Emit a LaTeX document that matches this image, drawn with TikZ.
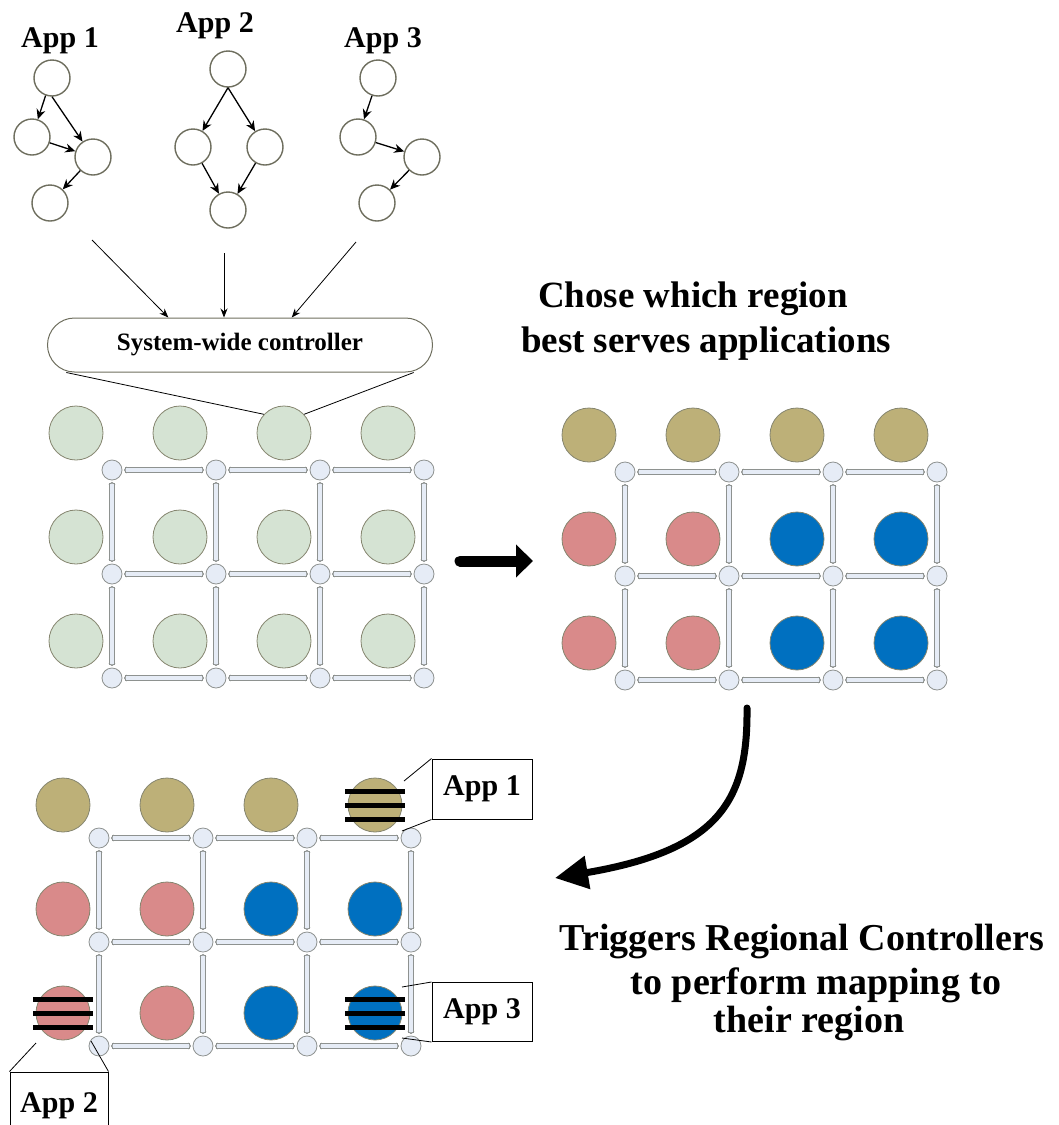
\documentclass[tikz,border=0pt]{standalone}
\usepackage{fontspec}
\setmainfont{Liberation Serif}
\usetikzlibrary{arrows.meta}

\definecolor{taskline}{HTML}{6E6E5E}
\definecolor{peline}{HTML}{85856F}
\definecolor{pegreen}{HTML}{D5E3D3}
\definecolor{pekhaki}{HTML}{BDB078}
\definecolor{pepink}{HTML}{D98A8A}
\definecolor{peblue}{HTML}{0070C0}
\definecolor{rtfill}{HTML}{E6ECF6}
\definecolor{rtline}{HTML}{8E9290}

% router mesh: name prefix, x and y of the first router
\newcommand{\mesh}[3]{%
  \foreach \i in {0,...,3}
    \foreach \j in {0,...,2}
      \node[router] (#1r\i\j) at ({#2+104*\i},{#3+104*\j}) {};
  \foreach \i/\k in {0/1,1/2,2/3}
    \foreach \j in {0,...,2}
      \draw[link] (#1r\i\j) -- (#1r\k\j);
  \foreach \i in {0,...,3}
    \foreach \j/\k in {0/1,1/2}
      \draw[link] (#1r\i\j) -- (#1r\i\k);
}

% black bars over a tile
\newcommand{\stripes}[1]{%
  \foreach \d in {-14,0,14}
    \draw[stripe] ([shift={(-30,\d)}]#1.center) -- ++(60,0);
}

\begin{document}
\begin{tikzpicture}[x=1pt,y=-1pt,
    task/.style={circle,draw=taskline,line width=1.4pt,fill=white,minimum size=36pt,inner sep=0pt},
    dep/.style={-{Stealth[length=10pt,width=9pt]},line width=1.3pt},
    feed/.style={-{Stealth[length=9pt,width=7pt]},line width=0.8pt},
    pe/.style={circle,draw=peline,line width=0.8pt,minimum size=54pt,inner sep=0pt},
    router/.style={circle,draw=rtline,line width=0.8pt,fill=rtfill,minimum size=20pt,inner sep=0pt},
    link/.style={draw=rtline,double=rtfill,double distance=3.4pt,line width=1pt,shorten <=1.5pt,shorten >=1.5pt,
                 {Stealth[length=2.5pt,width=7pt,inset=1pt]}-{Stealth[length=2.5pt,width=7pt,inset=1pt]}},
    lbl/.style={font=\fontsize{30}{36}\selectfont\bfseries,anchor=base},
    title/.style={font=\fontsize{37}{44}\selectfont\bfseries,anchor=base},
    callout/.style={draw,line width=1pt,fill=white,minimum width=100pt,minimum height=60pt,inner sep=0pt,font=\fontsize{30}{36}\selectfont\bfseries},
    stripe/.style={line width=5pt},
    bigarrow/.style={line width=11pt,line cap=round,-{Triangle[length=17pt,width=32pt]}}]

\useasboundingbox (0,0) rectangle (1059,1125);

% applications
\node[lbl] at (60,47) {App 1};
\node[lbl] at (215,32) {App 2};
\node[lbl] at (383,47) {App 3};

\node[task] (a1t) at (52,78) {};
\node[task] (a1l) at (32,137) {};
\node[task] (a1r) at (93,157) {};
\node[task] (a1b) at (50,203) {};
\draw[dep] (a1t.-110) -- (a1l);
\draw[dep] (a1t.south) -- (a1r);
\draw[dep] (a1l) -- (a1r);
\draw[dep] (a1r) -- (a1b);

\node[task] (a2t) at (228,69) {};
\node[task] (a2l) at (193,147) {};
\node[task] (a2r) at (265,147) {};
\node[task] (a2b) at (228,210) {};
\draw[dep] (a2t.south) -- (a2l);
\draw[dep] (a2t.south) -- (a2r);
\draw[dep] (a2l) -- (a2b);
\draw[dep] (a2r) -- (a2b);

\node[task] (a3t) at (378,78) {};
\node[task] (a3l) at (358,137) {};
\node[task] (a3r) at (422,157) {};
\node[task] (a3b) at (377,203) {};
\draw[dep] (a3t) -- (a3l);
\draw[dep] (a3l) -- (a3r);
\draw[dep] (a3r) -- (a3b);

% system-wide controller
\node[draw=taskline,line width=1pt,rounded corners=27pt,minimum width=385pt,minimum height=54pt,
      font=\fontsize{25}{30}\selectfont\bfseries] (ctrl) at (240,345) {System-wide controller};
\coordinate (in1) at (92,240);
\coordinate (in2) at (224,253);
\coordinate (in3) at (356,242);
\draw[feed] (in1) -- (ctrl.159);
\draw[feed] (in2) -- (in2 |- ctrl.north);
\draw[feed] (in3) -- (ctrl.28);

% mesh before mapping
\mesh{g1}{112}{470}
\foreach \i in {0,...,3}
  \foreach \j in {0,...,2}
    \node[pe,fill=pegreen] (g1p\i\j) at ({76+104*\i},{433+104*\j}) {};
\draw[line width=0.8pt] (ctrl.189) -- (g1p20.137);
\draw[line width=0.8pt] (ctrl.-9) -- (g1p20.43);

% mesh split into regions
\mesh{g2}{625}{472}
\foreach \i/\c in {0/pepink,1/pepink,2/peblue,3/peblue} {
  \node[pe,fill=pekhaki] (g2p\i0) at ({589+104*\i},435) {};
  \node[pe,fill=\c] (g2p\i1) at ({589+104*\i},539) {};
  \node[pe,fill=\c] (g2p\i2) at ({589+104*\i},643) {};
}

\coordinate (mvs) at (460,561);
\coordinate (mve) at (533,561);
\draw[bigarrow] (mvs) -- (mve);

\node[title] at (693,307) {Chose which region};
\node[title] at (706,352) {best serves applications};

% mesh after mapping
\mesh{g3}{99}{838}
\foreach \i/\c in {0/pepink,1/pepink,2/peblue,3/peblue} {
  \node[pe,fill=pekhaki] (g3p\i0) at ({63+104*\i},805) {};
  \node[pe,fill=\c] (g3p\i1) at ({63+104*\i},909) {};
  \node[pe,fill=\c] (g3p\i2) at ({63+104*\i},1013) {};
}
\stripes{g3p30}
\stripes{g3p02}
\stripes{g3p32}

\coordinate (cvs) at (747,708);
\coordinate (cve) at (555,878);
\draw[line width=7pt,line cap=round,-{Triangle[length=33pt,width=32pt]}]
  (cvs) .. controls (748,800) and (720,850) .. (cve);

\node[title,font=\fontsize{38}{45}\selectfont\bfseries] at (802,950) {Triggers Regional Controllers};
\node[title,font=\fontsize{38}{45}\selectfont\bfseries] at (816,994) {to perform mapping to};
\node[title,font=\fontsize{38}{45}\selectfont\bfseries] at (809,1032) {their region};

% callouts
\node[callout] (c1) at (482,789) {App 1};
\coordinate (c1a) at (404,781);
\coordinate (c1b) at (402,831);
\draw[line width=0.8pt] (c1.north west) -- (c1a);
\draw[line width=0.8pt] (c1.south west) -- (c1b);

\node[callout,minimum height=59pt] (c3) at (482,1012) {App 3};
\coordinate (c3a) at (402,987);
\coordinate (c3b) at (402,1038);
\draw[line width=0.8pt] (c3.north west) -- (c3a);
\draw[line width=0.8pt] (c3.south west) -- (c3b);

\node[callout,minimum width=98pt,minimum height=68pt] (c2) at (59,1106) {App 2};
\coordinate (c2a) at (36,1043);
\coordinate (c2b) at (91,1041);
\draw[line width=0.8pt] (c2.north west) -- (c2a);
\draw[line width=0.8pt] (c2.north east) -- (c2b);
\end{tikzpicture}
\end{document}
